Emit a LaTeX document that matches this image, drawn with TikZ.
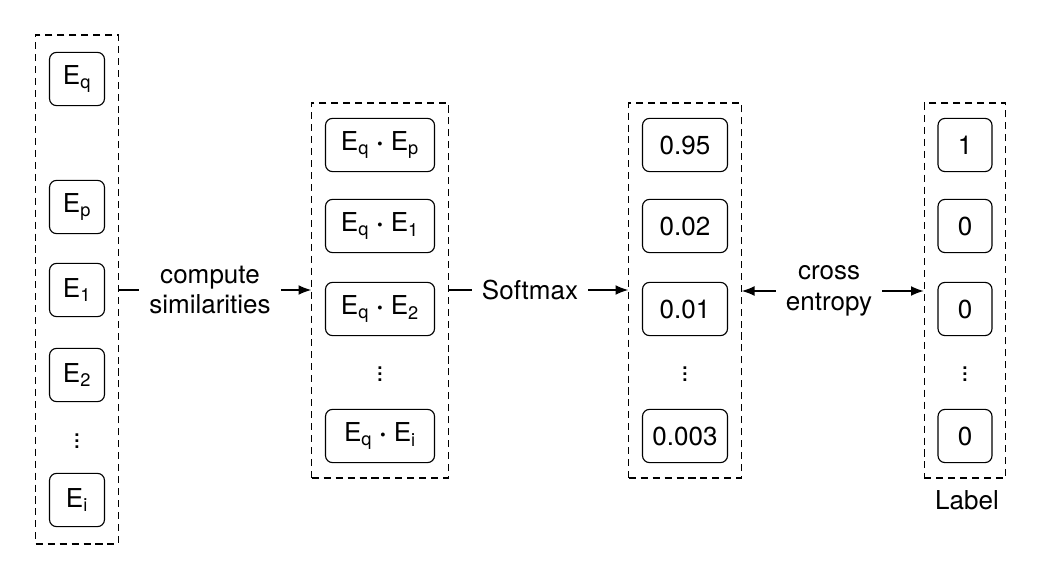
\documentclass[tikz,border=0pt]{standalone}
\usepackage{fontspec}
\setmainfont{TeX Gyre Heros}
\usetikzlibrary{fit,arrows.meta}
\tikzset{
	cell/.style={draw, rounded corners=5pt, line width=0.8pt, minimum height=1.33cm, inner sep=0pt},
	group/.style={draw, dash pattern=on 5pt off 3.5pt, line width=0.8pt, inner xsep=0.33cm, inner ysep=0.37cm},
	wire/.style={line width=0.8pt},
	link/.style={wire, -{Latex[length=9pt,width=7pt]}},
	tag/.style={align=center, inner xsep=0.25cm}
}
\newcommand{\Eq}[1]{E\textsubscript{#1}}
\newcommand{\dotp}[1]{\Eq{q} \textbf{·} \Eq{#1}}

\begin{document}
\begin{tikzpicture}[x=0.025cm, y=-0.025cm, font=\fontsize{18.5}{22}\selectfont]
	\useasboundingbox (0,0) rectangle (1046,570);
	% embeddings
	\node[cell, minimum width=1.375cm] (eq) at (77,79) {\Eq{q}};
	\node[cell, minimum width=1.375cm] (ep) at (77,207) {\Eq{p}};
	\node[cell, minimum width=1.375cm] (e1) at (77,290) {\Eq{1}};
	\node[cell, minimum width=1.375cm] (e2) at (77,375) {\Eq{2}};
	\node (edots) at (77,437) {$\vdots$};
	\node[cell, minimum width=1.375cm] (ei) at (77,500) {\Eq{i}};
	\node[group, inner ysep=0.42cm, fit=(eq)(ei)] (emb) {};
	% similarities
	\node[cell, minimum width=2.725cm] (sp) at (380,145) {\dotp{p}};
	\node[cell, minimum width=2.725cm] (s1) at (380,226) {\dotp{1}};
	\node[cell, minimum width=2.725cm] (s2) at (380,309) {\dotp{2}};
	\node (sdots) at (380,370) {$\vdots$};
	\node[cell, minimum width=2.725cm] (si) at (380,436) {\dotp{i}};
	\node[group, fit=(sp)(si)] (sims) {};
	% probabilities
	\node[cell, minimum width=2.125cm] (pp) at (685,145) {0.95};
	\node[cell, minimum width=2.125cm] (p1) at (685,226) {0.02};
	\node[cell, minimum width=2.125cm] (p2) at (685,309) {0.01};
	\node (pdots) at (685,370) {$\vdots$};
	\node[cell, minimum width=2.125cm] (pi) at (685,436) {0.003};
	\node[group, fit=(pp)(pi)] (prob) {};
	% labels
	\node[cell, minimum width=1.35cm] (lp) at (965,145) {1};
	\node[cell, minimum width=1.35cm] (l1) at (965,226) {0};
	\node[cell, minimum width=1.35cm] (l2) at (965,309) {0};
	\node (ldots) at (965,370) {$\vdots$};
	\node[cell, minimum width=1.35cm] (li) at (965,436) {0};
	\node[group, fit=(lp)(li)] (lab) {};
	\node (labtxt) at (967,500) {Label};
	% connections
	\node[tag] (sim) at (210,290) {compute\\similarities};
	\draw[wire] (emb.east |- sim) -- (sim);
	\draw[link] (sim) -- (sims.west |- sim);
	\node[tag] (soft) at (530,290) {Softmax};
	\draw[wire] (sims.east |- soft) -- (soft);
	\draw[link] (soft) -- (prob.west |- soft);
	\node[tag] (ce) at (829,291) {cross\\entropy};
	\draw[link] (ce) -- (prob.east |- ce);
	\draw[link] (ce) -- (lab.west |- ce);
\end{tikzpicture}
\end{document}
